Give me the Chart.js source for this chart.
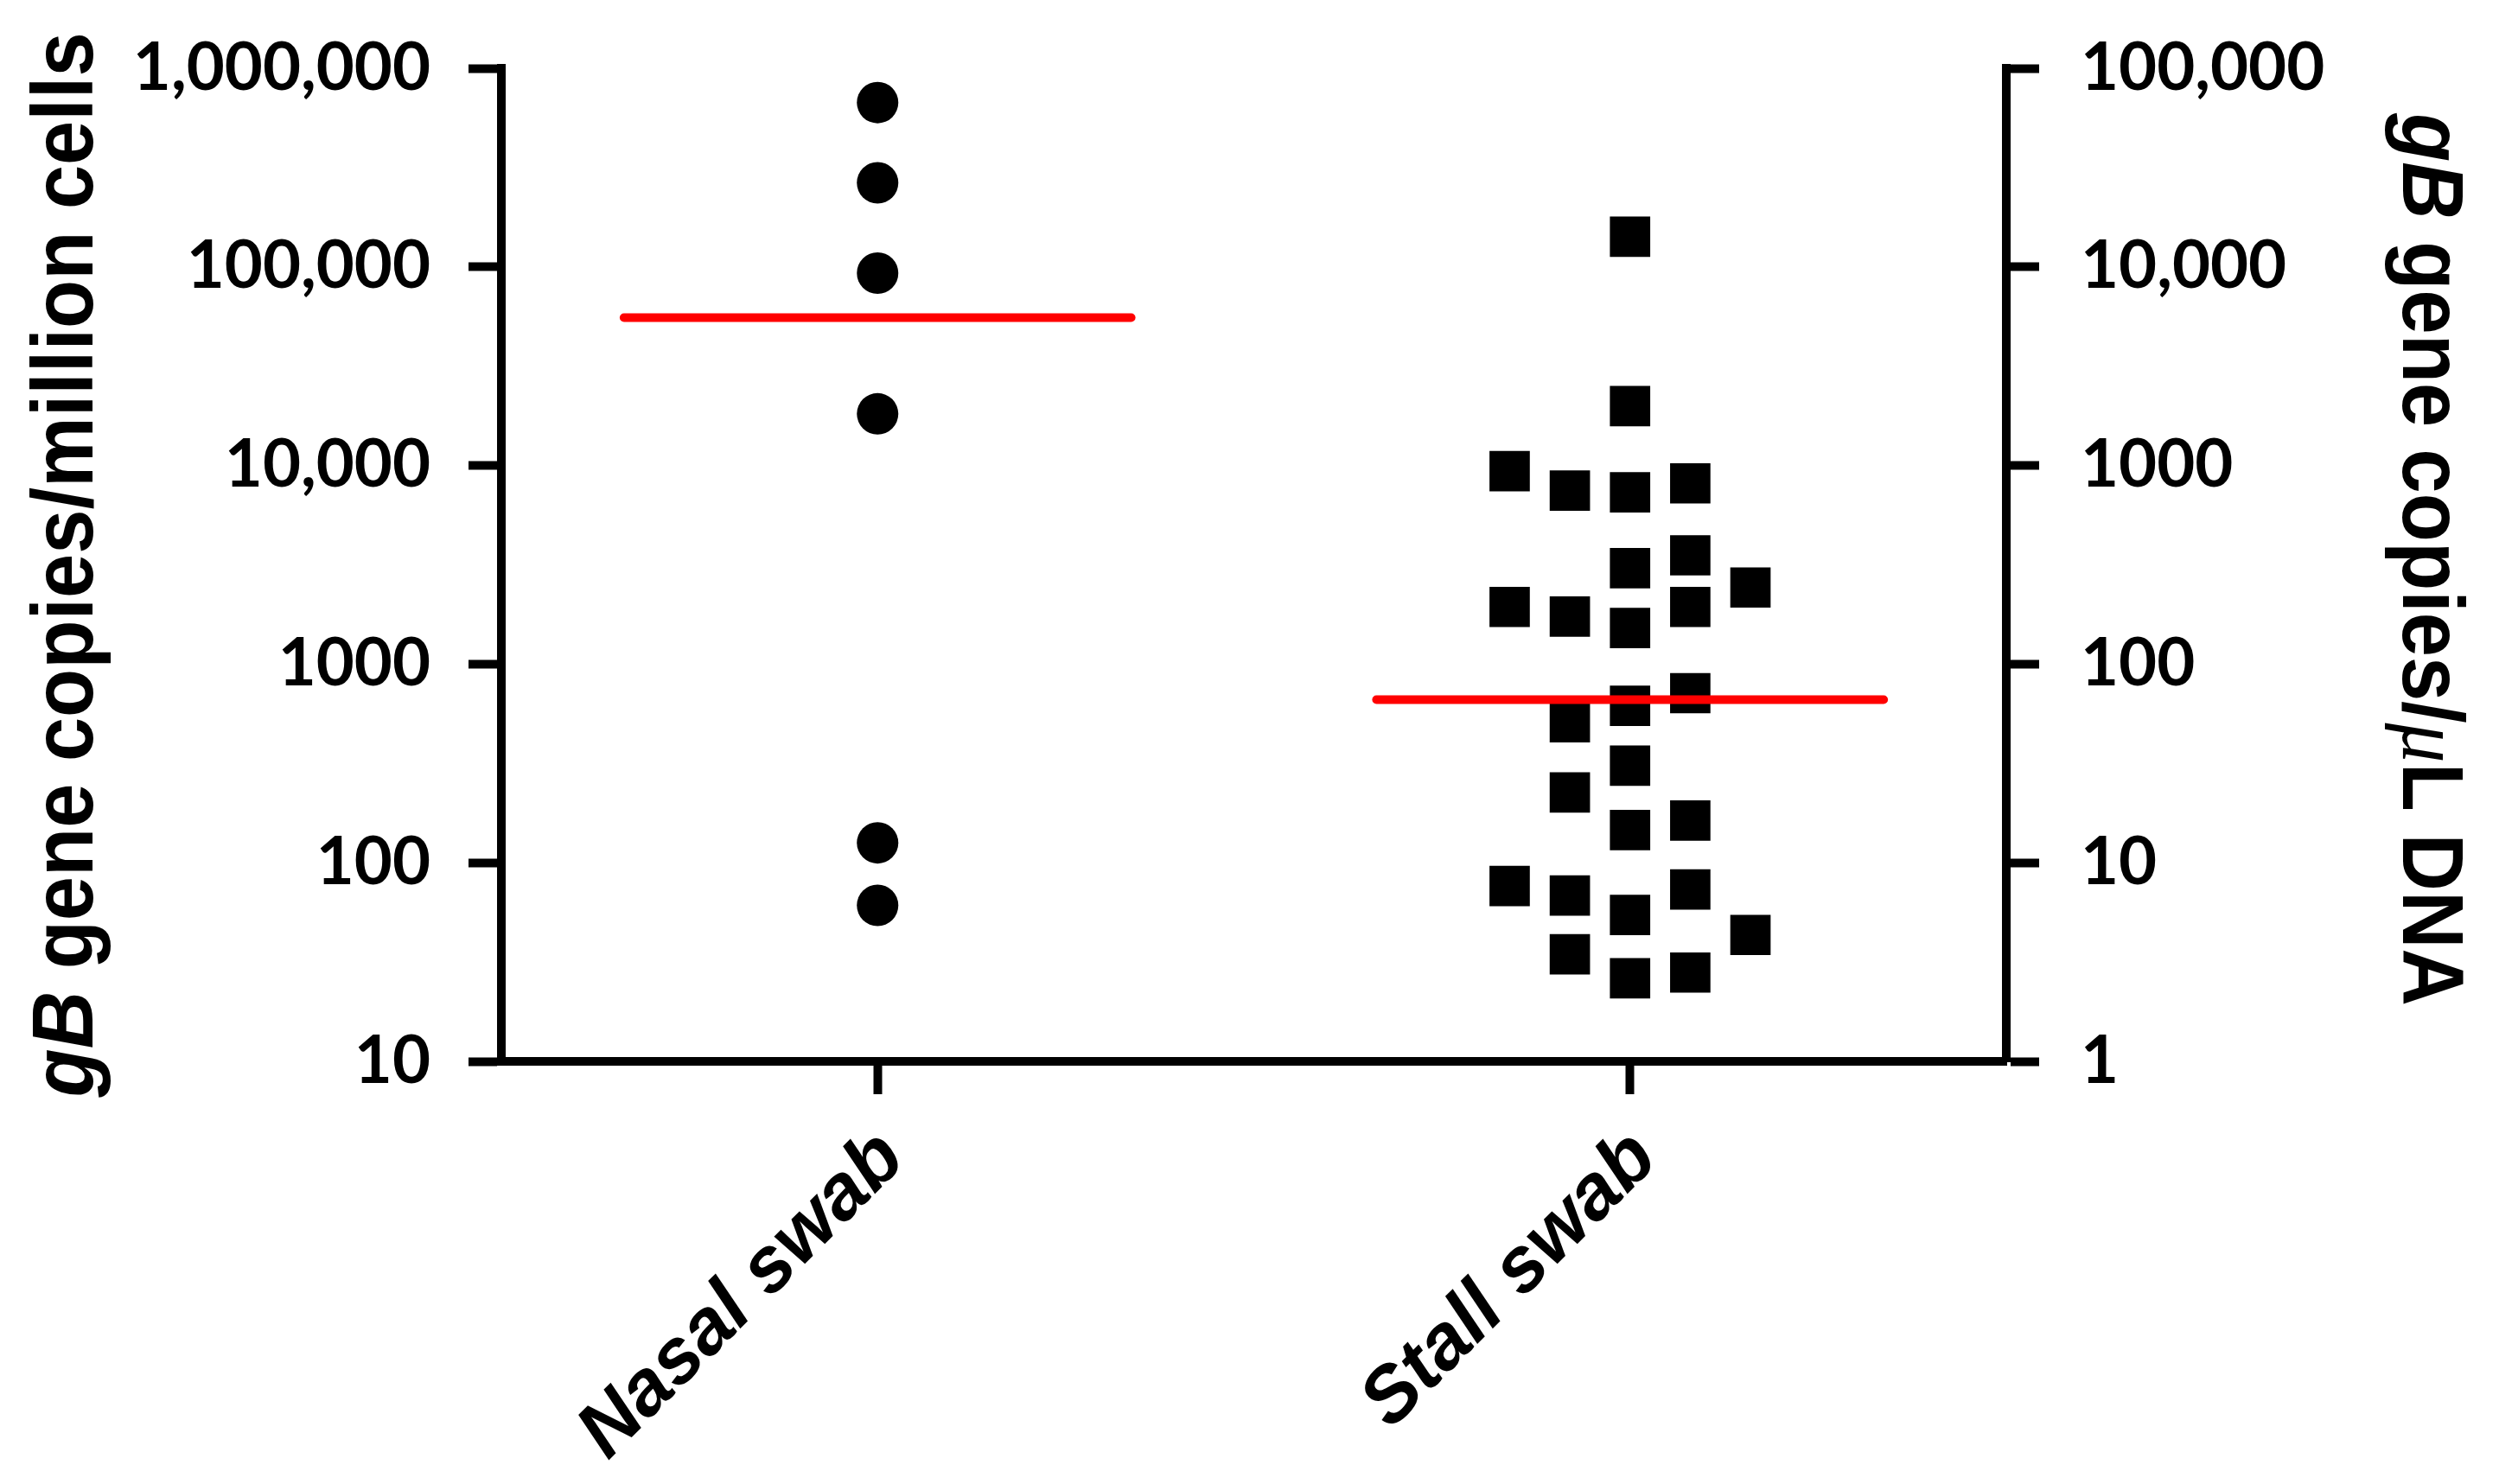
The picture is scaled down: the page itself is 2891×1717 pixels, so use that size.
<!DOCTYPE html>
<html>
<head>
<meta charset="utf-8">
<title>gB gene copies - nasal vs stall swabs</title>
<script src="https://cdn.jsdelivr.net/npm/chart.js@4.4.1/dist/chart.umd.min.js"></script>
<style>
    html, body { margin:0; padding:0; background:#fff; }
    canvas { display:block; }
</style>
</head>
<body>
<canvas id="chart" width="2891" height="1717"></canvas>
<script>
// ================= DATA =================
const categories = ["Nasal swab", "Stall swab"];

// gB gene copies / million cells
const nasalValues = [672000, 265000, 93000, 18200, 126, 61];

const stallValues = [
    142000, 19900, 7330, 3040, 1520, 617, 308, 146, 54.6, 26.2,
    9370, 1940, 76.4,
    7480, 1735, 510, 226, 68.4, 34.6,
    8130, 3530, 1940, 714, 163, 73.3, 28,
    2430, 43.3
];
// column of each stall point in the dot plot (-2 .. 2, 0 = centre)
const stallColumns = [
    0, 0, 0, 0, 0, 0, 0, 0, 0, 0,
    -2, -2, -2,
    -1, -1, -1, -1, -1, -1,
    1, 1, 1, 1, 1, 1, 1,
    2, 2
];

const medians = [55500, 662];

const leftTicks = [10, 100, 1000, 10000, 100000, 1000000];
const leftTickLabels = ["10", "100", "1000", "10,000", "100,000", "1,000,000"];
const rightTicks = [1, 10, 100, 1000, 10000, 100000];
const rightTickLabels = ["1", "10", "100", "1000", "10,000", "100,000"];

// ================= STYLE =================
const COLUMN_STEP = 0.08;     // x units between dot plot columns
const MEDIAN_HALF = 0.337;    // half length of the median bar, x units
const TICK_FONT = { family: "Lato, 'Open Sans', sans-serif", size: 76, weight: "bold" };
const CAT_FONT = { family: "'Liberation Sans', Arial, sans-serif", size: 90, weight: "bold", style: "italic" };

const axisGrid = {
    display: true,
    drawOnChartArea: false,
    drawTicks: true,
    tickLength: 38,
    tickWidth: 10,
    tickColor: "#000",
    color: "#000"
};
const axisBorder = { display: true, color: "#000", width: 10 };

// fixed axis sizes so the plot area sits where the figure has it
function fixWidth(w){
    return s => { s.width = w; s.paddingTop = 0; s.paddingBottom = 0; };
}

// ================= TITLES =================
function drawRich(ctx, parts, cx, cy, angle, squeeze){
    ctx.save();
    ctx.translate(cx, cy);
    ctx.rotate(angle);
    ctx.scale(squeeze, 1);
    ctx.textAlign = "left";
    ctx.textBaseline = "alphabetic";
    ctx.fillStyle = "#000";
    let total = 0;
    parts.forEach(p => { ctx.font = p.font; p.w = ctx.measureText(p.text).width; total += p.w; });
    let x = -total / 2;
    parts.forEach(p => { ctx.font = p.font; ctx.fillText(p.text, x, 0); x += p.w; });
    ctx.restore();
}

const titlePlugin = {
    id: "axisTitles",
    afterDraw(chart){
        const ctx = chart.ctx;
        const area = chart.chartArea;
        const midY = (area.top + area.bottom) / 2;
        const bold = "bold 100px 'Liberation Sans', Arial, sans-serif";
        const boldItalic = "italic bold 100px 'Liberation Sans', Arial, sans-serif";

        drawRich(ctx, [
            { text: "gB", font: boldItalic },
            { text: " gene copies/million cells", font: bold }
        ], 107, midY, -Math.PI / 2, 0.92);

        drawRich(ctx, [
            { text: "gB", font: boldItalic },
            { text: " gene copies/", font: bold },
            { text: "\u03BC", font: "italic 100px 'Liberation Serif', serif" },
            { text: "L DNA", font: bold }
        ], 2780, midY - 6, Math.PI / 2, 0.92);
    }
};

// ================= CHART =================
function initChart(){

    const ctx = document.getElementById("chart").getContext("2d");

    const medianSets = medians.map((m, i) => ({
        data: [{ x: i + 0.5 - MEDIAN_HALF, y: m }, { x: i + 0.5 + MEDIAN_HALF, y: m }],
        showLine: true,
        borderColor: "#ff0000",
        borderWidth: 10,
        borderCapStyle: "round",
        pointRadius: 0,
        order: 0
    }));

    new Chart(ctx, {
        type: "scatter",
        data: {
            datasets: [
                ...medianSets,
                {
                    data: nasalValues.map(v => ({ x: 0.5, y: v })),
                    pointStyle: "circle",
                    pointRadius: 24,
                    backgroundColor: "#000",
                    borderWidth: 0,
                    order: 1
                },
                {
                    data: stallValues.map((v, i) => ({ x: 1.5 + stallColumns[i] * COLUMN_STEP, y: v })),
                    pointStyle: "rect",
                    pointRadius: 33,
                    backgroundColor: "#000",
                    borderWidth: 0,
                    order: 1
                }
            ]
        },
        options: {
            responsive: false,
            animation: false,
            events: [],
            layout: { padding: { top: 79, left: 0, right: 0, bottom: 0 } },
            plugins: { legend: { display: false }, tooltip: { enabled: false } },
            scales: {
                x: {
                    type: "linear",
                    position: "bottom",
                    min: 0,
                    max: 2,
                    afterBuildTicks: s => { s.ticks = categories.map((c, i) => ({ value: i + 0.5 })); },
                    afterFit: s => { s.height = 489; s.paddingLeft = 0; s.paddingRight = 0; },
                    ticks: {
                        autoSkip: false,
                        minRotation: 45,
                        maxRotation: 45,
                        padding: 22,
                        labelOffset: 17,
                        color: "#000",
                        font: CAT_FONT,
                        callback: (v, i) => categories[i]
                    },
                    grid: axisGrid,
                    border: axisBorder
                },
                y: {
                    type: "logarithmic",
                    position: "left",
                    min: 10,
                    max: 1000000,
                    afterBuildTicks: s => { s.ticks = leftTicks.map(v => ({ value: v })); },
                    afterFit: fixWidth(580),
                    ticks: {
                        padding: 44,
                        color: "#000",
                        font: TICK_FONT,
                        callback: v => leftTickLabels[leftTicks.indexOf(v)]
                    },
                    grid: axisGrid,
                    border: axisBorder
                },
                y2: {
                    type: "logarithmic",
                    position: "right",
                    min: 1,
                    max: 100000,
                    afterBuildTicks: s => { s.ticks = rightTicks.map(v => ({ value: v })); },
                    afterFit: fixWidth(570),
                    ticks: {
                        padding: 48,
                        color: "#000",
                        font: TICK_FONT,
                        callback: v => rightTickLabels[rightTicks.indexOf(v)]
                    },
                    grid: axisGrid,
                    border: axisBorder
                }
            }
        },
        plugins: [titlePlugin]
    });
}

Promise.all([
    document.fonts.load("bold 76px Lato"),
    document.fonts.load("bold 100px 'Liberation Sans'"),
    document.fonts.load("italic bold 100px 'Liberation Sans'"),
    document.fonts.load("italic 100px 'Liberation Serif'")
]).then(initChart, initChart);
</script>
</body>
</html>
